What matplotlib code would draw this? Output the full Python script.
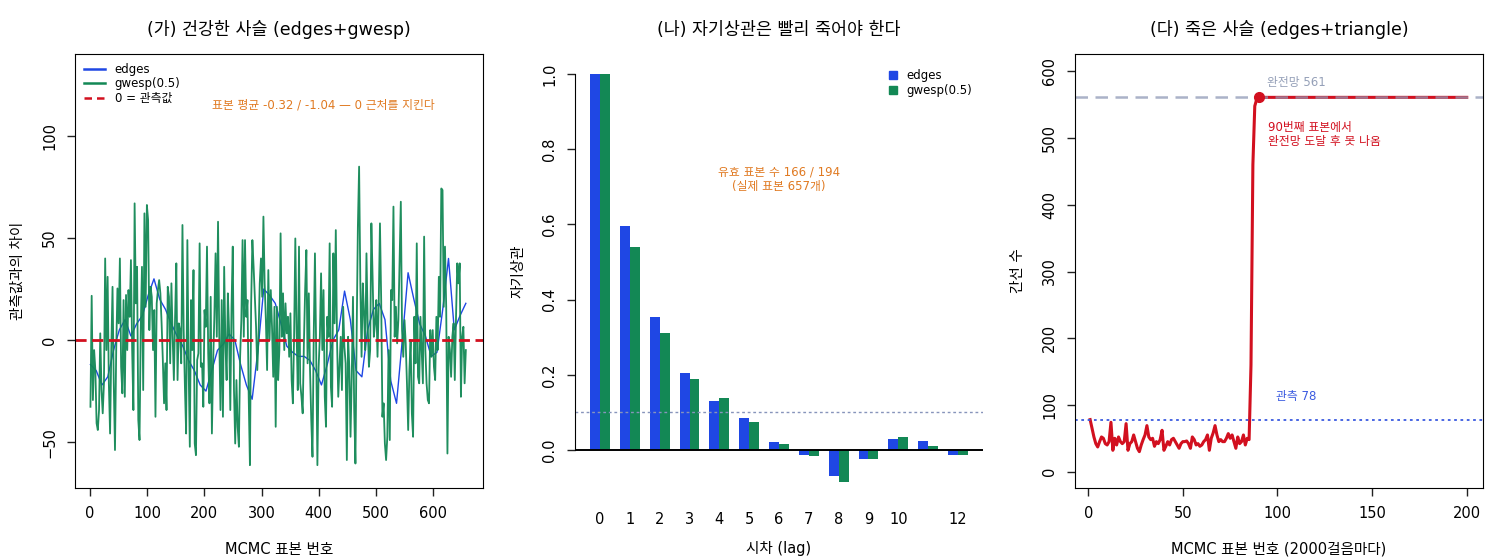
import numpy as np
import matplotlib.pyplot as plt
from matplotlib.patches import Patch
from matplotlib.lines import Line2D

plt.rcParams['font.family'] = ['DejaVu Sans', 'Noto Sans CJK KR']

BLUE = '#1f47e4'
GREEN = '#138855'
RED = '#d2101f'
ORANGE = '#e07a22'

# (가) trace values left to right
gwesp_vals = [
    -32.7, 21.7, -29.4, -4.9, -14.7, -40.8, -44.1, -34.3, 3.3, -24.5, -35.9, -21.2, 40.0, -4.9, 31.0,
    -21.2, -45.8, -4.9, 26.1, -21.2, -53.9, -4.9, 25.3, 8.2, 40.0, -13.1, -26.1, 19.6, -27.8, 22.1,
    -4.9, 24.5, 11.4, 39.2, -4.9, -34.3, 67.0, 18.0, 35.9, -39.2, -49.0, 4.9, 35.9, -24.5, 62.1,
    16.3, 66.2, 58.8, 4.9, 26.1, 21.2, -4.9, 14.7, -37.6, 18.0, 24.5, 29.4, 22.9, 8.2, -9.8,
    -31.0, -11.4, -34.3, 26.1, 21.2, -11.4, 27.8, 1.6, -19.6, 11.4, 37.6, -19.6, 8.2, 4.9, -11.4,
    56.4, 4.9, -22.9, -45.8, 49.0, -11.4, -52.3, 19.6, -4.9, 34.3, -50.7, -56.4, -9.8, -6.5, 47.4,
    -13.1, -11.4, -32.7, 14.7, 6.5, 45.8, -6.5, -31.0, 21.2, -45.8, -11.4, 11.4, 42.5, 1.6, 58.0,
    1.6, -34.3, 19.6, -37.6, 35.9, -1.6, -19.6, 22.9, 4.9, -34.3, 16.3, 45.8, -24.5, -50.7, -19.6,
    -42.5, -52.3, -8.2, 9.8, 49.0, 1.6, 49.0, 11.4, 19.6, -27.8, -61.3, 18.0, 49.0, 35.9, 21.2,
    6.5, -14.7, 1.6, 27.8, 40.0, 21.2, 60.5, 27.8, 9.8, -14.7, 34.3, 0.0,
    24.5, 6.5, -18.0, 16.3, -42.5, 16.3, -19.6, -4.9, 52.3, 1.6, 22.9, -4.9, 18.0, 3.3, 11.4,
    -8.2, 13.1, -19.6, -31.0, 1.6, 49.8, 4.9, -24.5, 45.8, -21.2, -27.8, -35.9, -1.6, 24.5, 44.1,
    -11.4, 22.9, -14.7, -39.2, -57.2, 1.6, 42.5, -4.9, -61.3, -13.1, 1.6, 32.7, -4.9, 24.5, -27.8,
    -42.5, 11.4, 1.6, 47.4, -22.9, -32.7, 42.5, 8.2, 53.9, 0.0, -27.8, -13.1, 1.6, -24.5, 16.3,
    -3.3, -11.4, -58.8, 1.6, -13.1, -47.4, -18.0, 21.2, -34.3, -60.5, 3.3, 55.6, 85.0, 27.8, -8.2,
    27.8, 13.1, -4.9, 42.5, 8.2, -13.1, -4.9, 57.2, 31.0, 1.6, 8.2, 19.6, -8.2, 18.0, 57.2,
    19.6, -37.6, -31.0, -50.7, -58.8, -47.4, -4.9, -49.0, 24.5, 19.6, 65.4, 1.6, 16.3, -1.6, 9.8,
    39.2, 67.8, 4.9, -8.2, 9.8, -1.6, -21.2, -44.1, -14.7, 0.0, -35.9, -47.4, 11.4, -11.4, 47.4,
    -18.0, -21.2, 11.4, -4.9, -21.2, 50.7, -4.9, -21.2, -29.4, -31.0, 4.9, -8.2, 4.9, -13.1, -19.6,
    11.4, -4.9, 31.0, 11.4, 74.3, 73.5, 16.3, 45.8, 16.3, -55.6, 1.6, -4.9, -18.0, 1.6, 8.2,
    -19.6, 11.4, 37.6, 27.8, 37.6, -27.8, 1.6, 6.5, -21.2, -4.9,
]
edges_vals = [
    -12, -15, -22, -18, -5, 5, 10, 2, 8, 12, 22, 30, 20, 15, 8, 2, -3, -10, -15, -22,
    -25, -15, -5, -2, 3, 0, -12, -22, -29, -5, 25, 22, 18, 8, -3, -6, -8, -8, -10, -15,
    -22, -12, 0, 5, 24, 10, -15, -18, 5, 15, 18, 10, -20, -31, 0, 33, 20, 8, 2, -8,
    -6, 15, 40, 5, 12, 18,
]
n_samples = 657

# (나) autocorrelation by lag
lags = list(range(13))
lag_labels = ['0', '1', '2', '3', '4', '5', '6', '7', '8', '9', '10', '', '12']
acf_edges = [1.0, 0.595, 0.355, 0.204, 0.130, 0.084, 0.020, -0.012, -0.070, -0.024, 0.028, 0.023, -0.012]
acf_gwesp = [1.0, 0.540, 0.310, 0.188, 0.138, 0.074, 0.015, -0.017, -0.086, -0.024, 0.034, 0.010, -0.014]

# (다) edge count of the degenerate chain
tri_before = [
    78, 65, 52, 42, 37, 45, 52, 50, 42, 40, 45, 74, 32, 50, 40, 52, 45, 42, 45, 72,
    32, 42, 45, 55, 45, 35, 30, 40, 48, 55, 69, 52, 48, 50, 38, 45, 42, 48, 62, 32,
    38, 45, 40, 48, 50, 45, 40, 35, 42, 45, 45, 46, 42, 35, 52, 48, 40, 42, 38, 40,
    45, 48, 55, 32, 50, 58, 69, 55, 45, 48, 45, 45, 50, 57, 50, 55, 45, 35, 52, 42,
    45, 55, 40, 50, 48,
]
tri_jump = [160, 460, 548, 558]
full_net = 561
obs_edges = 78
stuck_at = 90
tri_vals = tri_before + tri_jump + [full_net] * (200 - len(tri_before) - len(tri_jump))

fig = plt.figure(figsize=(15, 5.6), dpi=100)
bottom, top = 1 - 488 / 560, 1 - 54 / 560
w = 408 / 1500
ax1 = fig.add_axes([75 / 1500, bottom, w, top - bottom])
ax2 = fig.add_axes([575 / 1500, bottom, w, top - bottom])
ax3 = fig.add_axes([1075 / 1500, bottom, w, top - bottom])

for ax in (ax1, ax2, ax3):
    ax.tick_params(labelsize=10.5, length=6, width=1, pad=7, color='#222222')

# ---- (가)
ex = np.linspace(1, n_samples, len(edges_vals))
gx = np.linspace(1, n_samples, len(gwesp_vals))
ax1.plot(ex, edges_vals, color=BLUE, lw=1.0)
ax1.plot(gx, gwesp_vals, color=GREEN, lw=1.3, alpha=0.95)
ax1.axhline(0, color=RED, lw=2, ls=(0, (4, 2)))
ax1.set_xlim(-26, 687)
ax1.set_ylim(-72.5, 140.2)
ax1.set_xticks([0, 100, 200, 300, 400, 500, 600])
ax1.set_yticks([-50, 0, 50, 100])
ax1.set_title('(가) 건강한 사슬 (edges+gwesp)', fontsize=12.5, pad=14)
ax1.set_xlabel('MCMC 표본 번호', fontsize=10.5, labelpad=15)
ax1.set_ylabel('관측값과의 차이', fontsize=10.5, labelpad=12)
ax1.text(408, 115, '표본 평균 -0.32 / -1.04 — 0 근처를 지킨다', color=ORANGE,
         fontsize=8.5, ha='center', va='center')
h1 = [Line2D([], [], color=BLUE, lw=1.8), Line2D([], [], color=GREEN, lw=1.8),
      Line2D([], [], color=RED, lw=1.8, ls=(0, (3, 2)))]
ax1.legend(h1, ['edges', 'gwesp(0.5)', '0 = 관측값'], loc='upper left', frameon=False,
           fontsize=8.5, handlelength=1.8, labelspacing=0.12, borderaxespad=0.35,
           bbox_to_anchor=(0.0, 1.0))

# ---- (나)
centers = np.array([2 + 3 * l for l in lags])
ax2.bar(centers - 0.5, acf_edges, width=1, color=BLUE)
ax2.bar(centers + 0.5, acf_gwesp, width=1, color=GREEN)
ax2.axhline(0.1, color='#8794bb', lw=1, ls=(0, (2, 2)))
ax2.axhline(0, color='black', lw=1.4)
ax2.set_xlim(-0.52, 40.52)
ax2.set_ylim(-0.101, 1.053)
ax2.set_xticks(centers)
ax2.set_xticklabels(lag_labels)
ax2.tick_params(axis='x', length=0, pad=17)
ax2.set_yticks([0.0, 0.2, 0.4, 0.6, 0.8, 1.0])
for s in ('top', 'right', 'bottom'):
    ax2.spines[s].set_visible(False)
ax2.spines['left'].set_bounds(0, 1)
ax2.set_title('(나) 자기상관은 빨리 죽어야 한다', fontsize=12.5, pad=14)
ax2.set_xlabel('시차 (lag)', fontsize=10.5, labelpad=10)
ax2.set_ylabel('자기상관', fontsize=10.5, labelpad=12)
ax2.text(20, 0.72, '유효 표본 수 166 / 194\n(실제 표본 657개)', color=ORANGE,
         fontsize=8.5, ha='center', va='center', linespacing=1.1)
h2 = [Patch(color=BLUE), Patch(color=GREEN)]
ax2.legend(h2, ['edges', 'gwesp(0.5)'], loc='upper right', frameon=False, fontsize=8.5,
           handlelength=0.7, handleheight=0.7, labelspacing=0.2, bbox_to_anchor=(1.0, 0.99))

# ---- (다)
tx = np.arange(1, len(tri_vals) + 1)
ax3.plot(tx, tri_vals, color=RED, lw=2.2)
ax3.axhline(full_net, color='#8f99b6', lw=1.8, ls=(0, (5, 3)), alpha=0.75)
ax3.axhline(obs_edges, color='#3a5ae0', lw=1.3, ls=(0, (1.5, 2)))
ax3.plot([stuck_at], [tri_vals[stuck_at - 1]], 'o', color=RED, ms=7)
ax3.set_xlim(-7, 208.6)
ax3.set_ylim(-24.5, 626)
ax3.set_xticks([0, 50, 100, 150, 200])
ax3.set_yticks([0, 100, 200, 300, 400, 500, 600])
ax3.set_title('(다) 죽은 사슬 (edges+triangle)', fontsize=12.5, pad=14)
ax3.set_xlabel('MCMC 표본 번호 (2000걸음마다)', fontsize=10.5, labelpad=15)
ax3.set_ylabel('간선 수', fontsize=10.5, labelpad=12)
ax3.text(94.5, 584, '완전망 561', color='#95a0b8', fontsize=8.5, ha='left', va='center')
ax3.text(95, 506, '90번째 표본에서\n완전망 도달 후 못 나옴', color=RED, fontsize=8.5,
         ha='left', va='center', linespacing=1.1)
ax3.text(99, 112, '관측 78', color='#3a5ae0', fontsize=8.5, ha='left', va='center')

for ax in (ax1, ax2, ax3):
    plt.setp(ax.get_yticklabels(), rotation=90, va='center')

fig.savefig('out.png', dpi=100)
